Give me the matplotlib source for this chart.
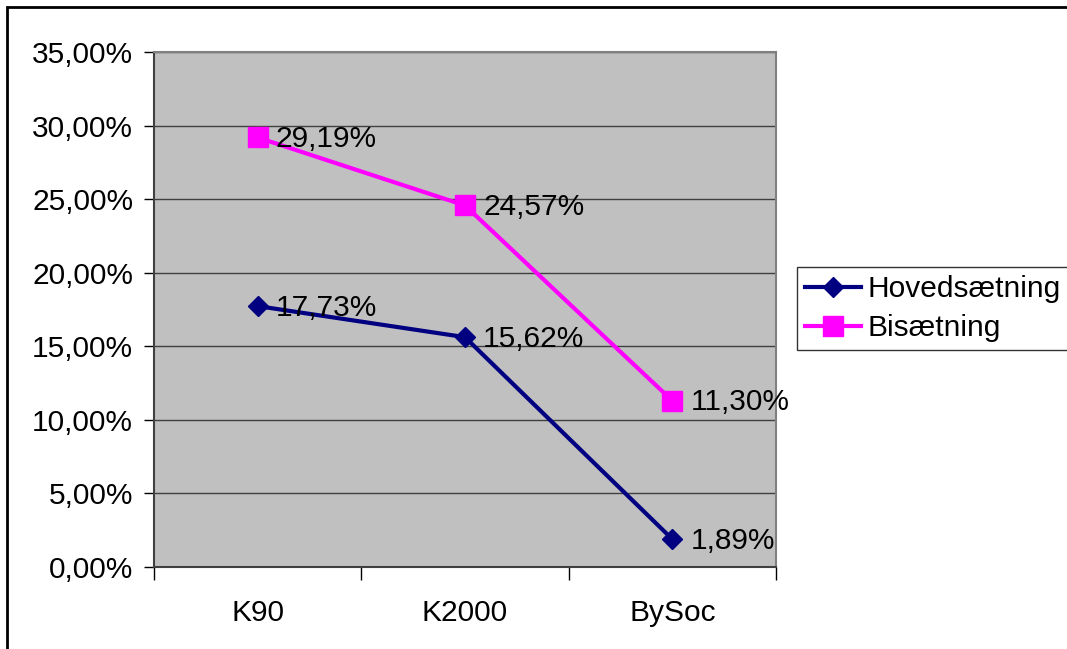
import matplotlib.pyplot as plt
from matplotlib.patches import Rectangle
from matplotlib.ticker import FuncFormatter, FixedLocator

plt.rcParams['font.family'] = ['Liberation Sans', 'DejaVu Sans']

categories = ['K90', 'K2000', 'BySoc']
hoved = [17.73, 15.62, 1.89]
bi = [29.19, 24.57, 11.30]
yticks = [0, 5, 10, 15, 20, 25, 30, 35]

def pct(v, pos=None):
    return f"{v:.2f}%".replace('.', ',')

fs = 21.5

fig = plt.figure(figsize=(10.67, 6.49), dpi=100)
ax = fig.add_axes([154 / 1067, 1 - 567 / 649, (776 - 154) / 1067, (567 - 52) / 649])
ax.set_facecolor('#C0C0C0')

x = range(len(categories))
ax.plot(x, hoved, color='#000080', lw=3, marker='D', ms=10.5, label='Hovedsætning', zorder=3)
ax.plot(x, bi, color='#FF00FF', lw=3, marker='s', ms=14, label='Bisætning', zorder=3)

for xs, ys in [(x, hoved), (x, bi)]:
    for xi, yi in zip(xs, ys):
        ax.annotate(pct(yi), (xi, yi), xytext=(13, -1), textcoords='offset points',
                    ha='left', va='center', fontsize=fs, zorder=4, annotation_clip=False)

ax.set_xlim(-0.5, 2.5)
ax.set_ylim(0, 35)
ax.set_yticks(yticks)
ax.yaxis.set_major_formatter(FuncFormatter(pct))
ax.set_xticks(list(x))
ax.set_xticklabels(categories)
ax.xaxis.set_minor_locator(FixedLocator([-0.5, 0.5, 1.5, 2.5]))
ax.tick_params(axis='x', which='major', length=0, pad=23, labelsize=fs)
ax.tick_params(axis='x', which='minor', length=9, width=1, color='black')
ax.tick_params(axis='y', length=7, width=1, pad=8, labelsize=fs)
ax.yaxis.grid(True, color='#404040', lw=1)
ax.set_axisbelow(True)

ax.spines['left'].set_color('#404040')
ax.spines['bottom'].set_color('#404040')
ax.spines['top'].set_color('#808080')
ax.spines['right'].set_color('#808080')
for s in ax.spines.values():
    s.set_linewidth(1.5)

leg = ax.legend(loc='upper left', bbox_to_anchor=(797 / 1067, 1 - 267 / 649),
                bbox_transform=fig.transFigure, fontsize=fs, frameon=True, fancybox=False,
                handlelength=1.85, handletextpad=0.22, borderpad=0.28, labelspacing=0.36,
                borderaxespad=0)
leg.get_frame().set_edgecolor('black')
leg.get_frame().set_linewidth(1)

fig.patches.append(Rectangle((7 / 1067, -0.1), 1.2, 1 - 7 / 649 + 0.1,
                             transform=fig.transFigure, fill=False, ec='black', lw=2))

fig.savefig('out.png', dpi=100)
